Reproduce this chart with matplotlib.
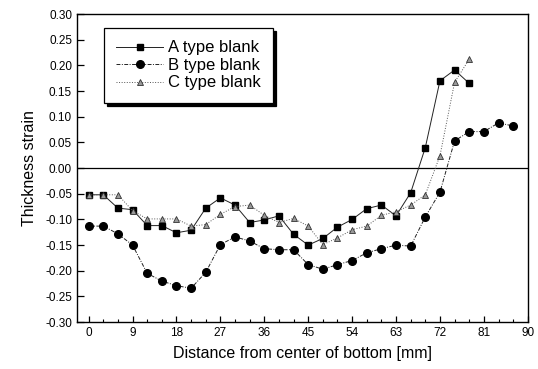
import numpy as np
import matplotlib.pyplot as plt
from matplotlib.ticker import MultipleLocator

plt.rcParams['font.family'] = ['Liberation Sans', 'DejaVu Sans']

# distance [mm], 3 mm steps
dist_a = np.arange(0, 79, 3)
dist_b = np.arange(0, 88, 3)
dist_c = np.arange(0, 79, 3)

strain_a = [-0.052, -0.052, -0.078, -0.081, -0.112, -0.112, -0.126, -0.121, -0.078,
            -0.058, -0.072, -0.106, -0.101, -0.093, -0.129, -0.150, -0.137, -0.115,
            -0.100, -0.079, -0.072, -0.093, -0.048, 0.040, 0.170, 0.191, 0.165]
strain_b = [-0.113, -0.113, -0.128, -0.150, -0.205, -0.220, -0.229, -0.234, -0.203,
            -0.149, -0.134, -0.142, -0.157, -0.159, -0.159, -0.188, -0.197, -0.188,
            -0.180, -0.165, -0.157, -0.150, -0.152, -0.095, -0.047, 0.053, 0.071,
            0.071, 0.088, 0.082]
strain_c = [-0.052, -0.052, -0.052, -0.083, -0.099, -0.099, -0.099, -0.113, -0.110,
            -0.090, -0.075, -0.072, -0.092, -0.106, -0.098, -0.113, -0.149, -0.136,
            -0.120, -0.113, -0.092, -0.085, -0.072, -0.052, 0.024, 0.167, 0.212]

fig = plt.figure(figsize=(5.38, 3.69), dpi=100)
ax = fig.add_axes([0.143, 0.127, 0.838, 0.835])

ax.axhline(0, color='black', lw=0.9)

ax.plot(dist_a, strain_a, '-', color='#222222', lw=0.7, marker='s', ms=5,
        mfc='black', mec='black', label='A type blank')
ax.plot(dist_b, strain_b, color='#222222', lw=0.7, ls=(0, (4, 1.5, 1, 1.5)), marker='o', ms=5.5,
        mfc='black', mec='black', label='B type blank')
ax.plot(dist_c, strain_c, color='#555555', lw=0.7, ls=':', marker='^', ms=5,
        mfc='#999999', mec='#333333', mew=0.6, label='C type blank')

ax.set_xlim(-2.4, 90)
ax.set_ylim(-0.30, 0.30)
ax.xaxis.set_major_locator(MultipleLocator(9))
ax.xaxis.set_minor_locator(MultipleLocator(3))
ax.yaxis.set_major_locator(MultipleLocator(0.05))
ax.set_yticklabels(['%.2f' % v for v in ax.get_yticks()])
ax.tick_params(which='both', direction='in', labelsize=8.5)
ax.tick_params(which='major', length=4, width=0.9)
ax.tick_params(which='minor', length=2.5, width=0.8)
ax.tick_params(axis='y', which='major', length=5)
for s in ax.spines.values():
    s.set_linewidth(1.0)

ax.set_xlabel('Distance from center of bottom [mm]', fontsize=11.5, labelpad=5)
ax.set_ylabel('Thickness strain', fontsize=11.5, labelpad=6)

leg = ax.legend(loc='upper left', bbox_to_anchor=(0.06, 0.955), fontsize=12,
                fancybox=False, shadow={'color': 'black', 'alpha': 1},
                edgecolor='black', framealpha=1, borderpad=0.75, labelspacing=0.15,
                handlelength=2.8, handletextpad=0.3, borderaxespad=0)
leg.get_frame().set_linewidth(0.9)

fig.savefig('out.png', dpi=100)
